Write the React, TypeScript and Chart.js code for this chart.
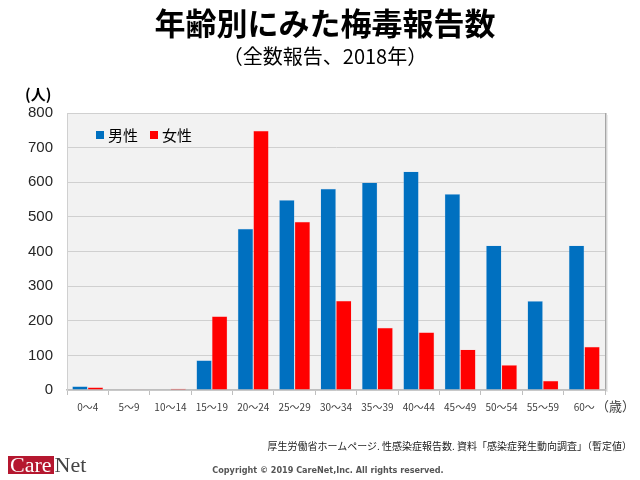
import React, { useEffect, useRef } from "react";
import { Chart, registerables } from "chart.js";

Chart.register(...registerables);

const categories = ["0～4", "5～9", "10～14", "15～19", "20～24", "25～29", "30～34", "35～39", "40～44", "45～49", "50～54", "55～59", "60～"];
const maleValues = [11, 0, 0, 86, 466, 549, 581, 599, 631, 566, 417, 257, 417];
const femaleValues = [8, 2, 4, 213, 749, 486, 258, 180, 167, 117, 72, 27, 125];
const seriesNames = ["男性", "女性"];
const seriesColors = ["#0070c0", "#ff0000"];
const yMin = 0;
const yMax = 800;
const yStep = 100;

const titleText = "年齢別にみた梅毒報告数";
const subtitleText = "（全数報告、2018年）";
const yUnit = "(人)";
const xUnit = "（歳）";
const sourceText = "厚生労働省ホームページ. 性感染症報告数. 資料「感染症発生動向調査」（暫定値）";
const copyrightText = "Copyright © 2019 CareNet,Inc. All rights reserved.";

const JP = '"Noto Sans CJK JP", "Noto Sans", sans-serif';
const NUM = '"Liberation Sans", Arial, sans-serif';

const plotBg = {
  id: "plotBg",
  beforeDraw(chart: any) {
    const { ctx, chartArea } = chart;
    const { left, top, right, bottom } = chartArea;
    ctx.save();
    ctx.fillStyle = "#f2f2f2";
    ctx.fillRect(left, top, right - left, bottom - top);
    ctx.strokeStyle = "#d9d9d9";
    ctx.lineWidth = 1;
    ctx.beginPath();
    ctx.moveTo(left, top + 0.5);
    ctx.lineTo(right, top + 0.5);
    ctx.stroke();
    ctx.strokeStyle = "#a6a6a6";
    ctx.lineWidth = 1.5;
    ctx.beginPath();
    ctx.moveTo(right + 0.75, top);
    ctx.lineTo(right + 0.75, bottom + 1);
    ctx.stroke();
    ctx.strokeStyle = "#d9d9d9";
    ctx.lineWidth = 1;
    ctx.beginPath();
    ctx.moveTo(right + 2, top + 2);
    ctx.lineTo(right + 2, bottom + 2);
    ctx.stroke();
    ctx.restore();
  },
};

export default function App() {
  const ref = useRef<HTMLCanvasElement | null>(null);

  useEffect(() => {
    if (!ref.current) return;
    const chart = new Chart(ref.current, {
      type: "bar",
      data: {
        labels: categories,
        datasets: [
          {
            label: seriesNames[0],
            data: maleValues,
            backgroundColor: seriesColors[0],
            borderColor: "rgba(160,200,240,0.6)",
            borderWidth: 0.5,
          },
          {
            label: seriesNames[1],
            data: femaleValues,
            backgroundColor: seriesColors[1],
            borderColor: "rgba(255,170,170,0.6)",
            borderWidth: 0.5,
          },
        ],
      },
      options: {
        animation: false,
        responsive: false,
        maintainAspectRatio: false,
        layout: { padding: { top: 113, left: 0, right: 35, bottom: 0 } },
        plugins: {
          legend: { display: false },
          tooltip: { enabled: false },
          title: { display: false },
        },
        datasets: { bar: { categoryPercentage: 0.75, barPercentage: 1 } },
        scales: {
          x: {
            offset: true,
            grid: {
              offset: true,
              display: true,
              drawOnChartArea: false,
              drawTicks: true,
              tickLength: 5,
              color: "#bfbfbf",
            },
            border: { display: true, color: "#bfbfbf", width: 1.5 },
            ticks: {
              padding: 6,
              color: "#404040",
              font: { family: JP, size: 10 },
              maxRotation: 0,
              autoSkip: false,
            },
            afterFit(scale: any) {
              scale.height = 90;
            },
          },
          y: {
            min: yMin,
            max: yMax,
            ticks: {
              stepSize: yStep,
              padding: 14,
              color: "#262626",
              font: { family: NUM, size: 15 },
            },
            grid: { color: "#d0d0d0", lineWidth: 1, drawTicks: false },
            border: { display: true, color: "#d0d0d0" },
            afterFit(scale: any) {
              scale.width = 67;
            },
          },
        },
      },
      plugins: [plotBg],
    });
    return () => chart.destroy();
  }, []);

  const abs = (s: React.CSSProperties): React.CSSProperties => ({ position: "absolute", whiteSpace: "nowrap", margin: 0, ...s });

  return (
    <div style={{ position: "absolute", left: 0, top: 0, width: 640, height: 480, background: "#fff", overflow: "hidden" }}>
      <canvas ref={ref} width={640} height={480} style={{ position: "absolute", left: 0, top: 0, width: 640, height: 480 }} />
      <div style={abs({ left: 0, width: 650, top: 1, textAlign: "center", fontFamily: JP, fontWeight: 700, fontSize: 31, lineHeight: "42px", color: "#000" })}>{titleText}</div>
      <div style={abs({ left: 0, width: 650, top: 41, textAlign: "center", fontFamily: JP, fontSize: 20, lineHeight: "30px", color: "#000" })}>{subtitleText}</div>
      <div style={abs({ left: 25, top: 84, fontFamily: JP, fontWeight: 700, fontSize: 15, lineHeight: "20px", color: "#000" })}>{yUnit}</div>
      <div style={abs({ left: 96, top: 125, display: "flex", alignItems: "center", fontFamily: JP, fontSize: 15, lineHeight: "20px", color: "#000" })}>
        <span style={{ display: "inline-block", width: 8, height: 8, background: seriesColors[0], marginRight: 4 }} />
        <span>{seriesNames[0]}</span>
        <span style={{ display: "inline-block", width: 8, height: 8, background: seriesColors[1], marginLeft: 12, marginRight: 4 }} />
        <span>{seriesNames[1]}</span>
      </div>
      <div style={abs({ left: 596, top: 398, fontFamily: JP, fontSize: 13, lineHeight: "16px", color: "#404040" })}>{xUnit}</div>
      <div style={abs({ right: 8, top: 439, fontFamily: JP, fontSize: 10, lineHeight: "14px", color: "#222" })}>{sourceText}</div>
      <div style={abs({ left: 0, width: 656, top: 464, textAlign: "center", fontFamily: '"Liberation Sans Narrow", "DejaVu Sans Condensed", sans-serif', fontWeight: 700, fontSize: 9, lineHeight: "12px", color: "#555" })}>{copyrightText}</div>
      <div style={abs({ left: 8, top: 456, display: "flex", alignItems: "center", fontFamily: '"Liberation Serif", "DejaVu Serif", serif', fontSize: 22, lineHeight: "18px" })}>
        <span style={{ background: "#b5172f", color: "#fff", padding: "0 2px", height: 18, display: "inline-block", lineHeight: "18px" }}>Care</span>
        <span style={{ color: "#444", paddingLeft: 1 }}>Net</span>
      </div>
    </div>
  );
}
